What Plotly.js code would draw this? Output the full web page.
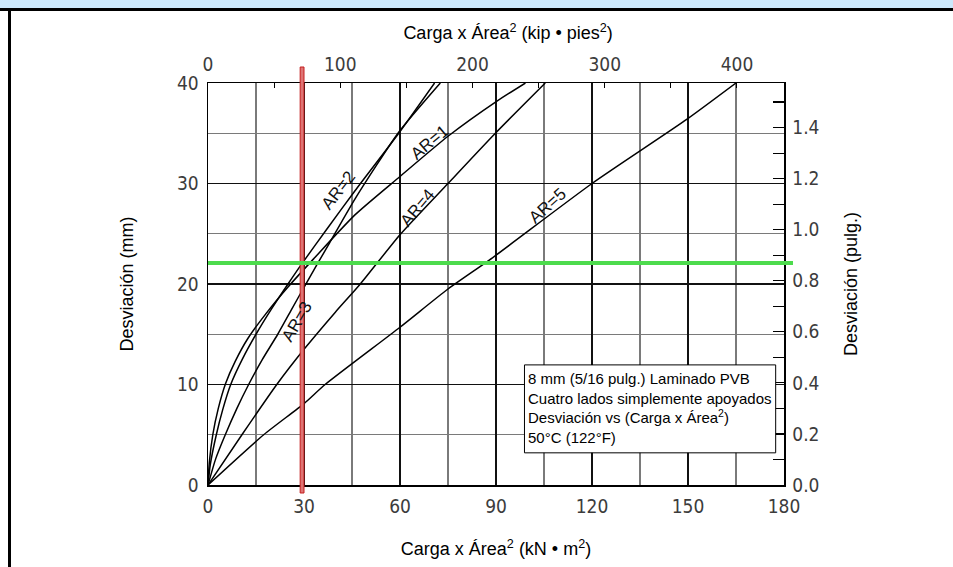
<!DOCTYPE html>
<html>
<head>
<meta charset="utf-8">
<script src="https://cdn.plot.ly/plotly-3.0.1.min.js"></script>
<style>
  html, body { margin: 0; padding: 0; background: #ffffff; overflow: hidden; }
  #wrap { position: relative; width: 953px; height: 567px; overflow: hidden; background: #fff; }
  #band { position: absolute; left: 0; top: 0; width: 953px; height: 8px; background: #cce8fb; }
  #topline { position: absolute; left: 0; top: 8px; width: 953px; height: 2.5px; background: #000; }
  #leftline { position: absolute; left: 8px; top: 9px; width: 2.5px; height: 558px; background: #000; }
  #chart { position: absolute; left: 0; top: 0; width: 953px; height: 567px; }
</style>
</head>
<body>
<div id="wrap">
  <div id="band"></div>
  <div id="topline"></div>
  <div id="leftline"></div>
  <div id="chart"></div>
</div>
<script>
// ---- Data (x: Carga x Área² in kN·m², y: Desviación in mm) ----
const ar1X = [0, 0.4, 1.5, 3.2, 5.5, 8.5, 12.5, 18, 25, 33, 46, 60, 75, 90.3, 99.2];
const ar1Y = [0, 2.2, 5.0, 7.6, 10.1, 12.3, 14.6, 17.0, 19.7, 22.5, 26.9, 30.7, 34.7, 38.2, 40];
const ar2X = [0, 0.7, 2.6, 4.6, 7.1, 10.7, 15.0, 19.8, 25.0, 29.3, 37, 46, 59.6, 70.8];
const ar2Y = [0, 2.0, 5.0, 7.5, 10.0, 12.5, 15.0, 17.5, 20.0, 22.0, 25.4, 29.3, 35.0, 40];
const ar3X = [0, 2.4, 5.4, 9, 12.7, 17, 21.8, 26, 30.4, 38, 46, 59.6, 72.6];
const ar3Y = [0, 2.6, 5.0, 7.6, 10.0, 12.5, 15.0, 17.4, 19.9, 24.1, 28.5, 35.1, 40];
const ar4X = [0, 10.6, 21.5, 30, 39.8, 47.6, 60, 75, 89.8, 105.4];
const ar4Y = [0, 5, 10, 13.5, 17.2, 20, 24.9, 30, 35, 40];
const ar5X = [0, 17.4, 30, 36.6, 60, 75, 88, 120, 149.7, 165];
const ar5Y = [0, 5, 8.1, 10, 15.7, 19.5, 22.4, 30, 36.4, 40];
const seriesNames = ['AR=1', 'AR=2', 'AR=3', 'AR=4', 'AR=5'];

// reference lines
const refLoad = 29.4;   // kN·m²
const refDefl = 22.1;   // mm

// axis ranges / conversions
const xMax = 180;            // kN·m²
const yMax = 40;             // mm
const kNm2ToKipFt2 = 2.41984;
const mmToIn = 1 / 25.4;

const noteLines = [
  '8 mm (5/16 pulg.) Laminado PVB',
  'Cuatro lados simplemente apoyados',
  'Desviación vs (Carga x Área<sup>2</sup>)',
  '50°C (122°F)'
];

// ---- Layout helpers ----
const L = 208, R = 784, T = 83, B = 485;  // plot area in px
const px = v => (v - L) / (R - L);
const py = v => (B - v) / (B - T);

const tickFont = {family: 'Liberation Sans Narrow, DejaVu Sans Condensed, Arial Narrow, sans-serif', size: 19, color: '#3c3c3c'};
const titleFont = {family: 'Liberation Sans, Arial, sans-serif', size: 18, color: '#000'};

const xs = [ar1X, ar2X, ar3X, ar4X, ar5X];
const ys = [ar1Y, ar2Y, ar3Y, ar4Y, ar5Y];
const traces = xs.map((x, i) => ({
  type: 'scatter', mode: 'lines', x: x, y: ys[i], name: seriesNames[i],
  line: {color: '#000', width: 1.5, shape: 'spline', smoothing: 0.6},
  hoverinfo: 'x+y+name', showlegend: false
}));
// same AR=5 curve expressed in imperial units, invisible, so the top and right axes are drawn
traces.push({type: 'scatter', mode: 'lines', x: ar5X.map(v => v * kNm2ToKipFt2), y: ar5Y,
  xaxis: 'x2', yaxis: 'y', line: {width: 0, color: 'rgba(0,0,0,0)'}, hoverinfo: 'skip', showlegend: false});
traces.push({type: 'scatter', mode: 'lines', x: ar5X, y: ar5Y.map(v => v * mmToIn),
  xaxis: 'x', yaxis: 'y2', line: {width: 0, color: 'rgba(0,0,0,0)'}, hoverinfo: 'skip', showlegend: false});

const annotations = [
  {text: 'AR=1', x: 69.2, y: 34.1, textangle: -40},
  {text: 'AR=2', x: 40.7, y: 29.3, textangle: -52},
  {text: 'AR=3', x: 27.8, y: 16.3, textangle: -60},
  {text: 'AR=4', x: 65.6, y: 27.6, textangle: -50},
  {text: 'AR=5', x: 106.2, y: 27.8, textangle: -42}
].map(a => Object.assign(a, {xref: 'x', yref: 'y', showarrow: false,
  font: {family: 'Liberation Sans, Arial, sans-serif', size: 17, color: '#111'}}));

annotations.push({
  xref: 'x', yref: 'y', x: 99.4, y: 11.6, xanchor: 'left', yanchor: 'top',
  align: 'left', showarrow: false, text: noteLines.join('<br>'),
  font: {family: 'Liberation Sans, Arial, sans-serif', size: 15, color: '#000'}
});

const shapes = [
  // note box
  {type: 'rect', xref: 'x', yref: 'y', x0: 98.9, x1: 177.4, y0: 3.2, y1: 11.95,
   fillcolor: '#fff', line: {color: '#000', width: 1}, layer: 'above'},
  // red reference line
  {type: 'rect', xref: 'x', yref: 'paper', x0: refLoad - 0.6, x1: refLoad + 0.6, y0: py(493), y1: py(67),
   fillcolor: '#de7474', line: {color: '#c41e1e', width: 1}, layer: 'above'},
  // green reference line
  {type: 'line', xref: 'paper', yref: 'y', x0: 0, x1: px(793), y0: refDefl, y1: refDefl,
   line: {color: '#4ddb4d', width: 4}, layer: 'above'}
];

const layout = {
  width: 953, height: 567,
  margin: {l: L, r: 953 - R, t: T, b: 567 - B, pad: 0},
  paper_bgcolor: 'rgba(0,0,0,0)', plot_bgcolor: '#fff',
  showlegend: false,
  title: {text: 'Carga x Área<sup>2</sup> (kip • pies<sup>2</sup>)', font: titleFont,
          xref: 'paper', x: 0.521, xanchor: 'center', yref: 'container', y: 1 - 33 / 567, yanchor: 'middle'},
  xaxis: {
    range: [0, xMax], dtick: 30, tick0: 0, ticks: '', showline: true, linecolor: '#000', linewidth: 1.5,
    showgrid: true, gridcolor: '#111', gridwidth: 1.4, zeroline: false,
    minor: {dtick: 15, showgrid: true, gridcolor: '#7a7a7a', gridwidth: 1.1},
    tickfont: tickFont, ticklabelstandoff: 4,
    title: {text: 'Carga x Área<sup>2</sup> (kN • m<sup>2</sup>)', font: titleFont, standoff: 26},
    fixedrange: true
  },
  yaxis: {
    range: [0, yMax], dtick: 10, tick0: 0, ticks: '', showline: true, linecolor: '#000', linewidth: 1.5,
    showgrid: true, gridcolor: '#111', gridwidth: 1.4, zeroline: false,
    minor: {dtick: 5, showgrid: true, gridcolor: '#7a7a7a', gridwidth: 1.1},
    tickfont: tickFont, ticklabelstandoff: 4,
    title: {text: 'Desviación (mm)', font: titleFont, standoff: 38},
    fixedrange: true
  },
  xaxis2: {
    overlaying: 'x', side: 'top', anchor: 'y', range: [0, xMax * kNm2ToKipFt2],
    dtick: 100, tick0: 0, ticks: 'inside', ticklen: 5, tickcolor: '#000', tickwidth: 1,
    minor: {dtick: 50, ticks: 'inside', ticklen: 5, tickcolor: '#000'},
    showline: true, linecolor: '#000', linewidth: 1.5, showgrid: false, zeroline: false,
    tickfont: tickFont, ticklabelstandoff: 3, fixedrange: true
  },
  yaxis2: {
    overlaying: 'y', side: 'right', anchor: 'x', range: [0, yMax * mmToIn],
    dtick: 0.2, tick0: 0, tickformat: '.1f', ticks: 'inside', ticklen: 11, tickcolor: '#000', tickwidth: 1.2,
    minor: {dtick: 0.1, ticks: 'inside', ticklen: 11, tickcolor: '#000'},
    showline: true, linecolor: '#000', linewidth: 1.5, showgrid: false, zeroline: false,
    tickfont: tickFont, ticklabelstandoff: 3,
    title: {text: 'Desviación (pulg.)', font: titleFont, standoff: 26},
    fixedrange: true
  },
  shapes: shapes,
  annotations: annotations
};

Plotly.newPlot('chart', traces, layout, {displayModeBar: false, staticPlot: true});
</script>
</body>
</html>
